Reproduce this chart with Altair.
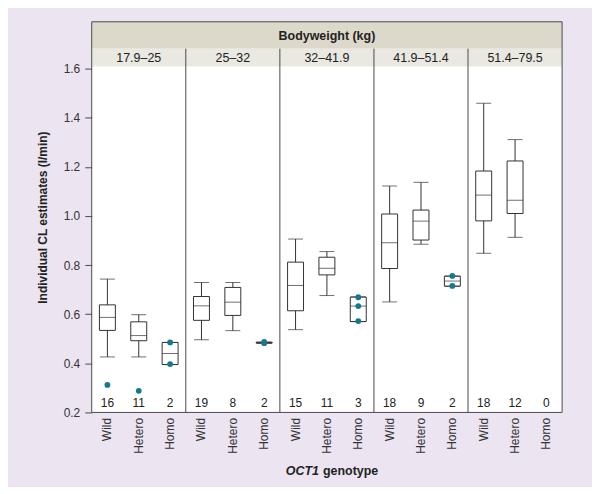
import altair as alt
import pandas as pd

# ---------------- data ----------------
panels = ["17.9–25", "25–32", "32–41.9", "41.9–51.4", "51.4–79.5"]
genotypes = ["Wild", "Hetero", "Homo"]

# box statistics per panel (None = no box)
wild_lo  = [0.426, 0.496, 0.537, 0.650, 0.848]
wild_q1  = [0.534, 0.575, 0.614, 0.786, 0.980]
wild_med = [0.587, 0.634, 0.717, 0.891, 1.085]
wild_q3  = [0.638, 0.672, 0.812, 1.008, 1.183]
wild_hi  = [0.743, 0.729, 0.906, 1.122, 1.459]

het_lo  = [0.426, 0.533, 0.676, 0.885, 0.913]
het_q1  = [0.492, 0.595, 0.760, 0.902, 1.010]
het_med = [0.513, 0.649, 0.787, 0.979, 1.064]
het_q3  = [0.569, 0.709, 0.832, 1.024, 1.224]
het_hi  = [0.598, 0.729, 0.855, 1.137, 1.311]

homo_lo  = [0.395, 0.482, 0.570, 0.714, None]
homo_q1  = [0.395, 0.482, 0.570, 0.714, None]
homo_med = [0.440, 0.484, 0.633, 0.735, None]
homo_q3  = [0.485, 0.486, 0.670, 0.755, None]
homo_hi  = [0.485, 0.486, 0.670, 0.755, None]

counts = [[16, 11, 2], [19, 8, 2], [15, 11, 3], [18, 9, 2], [18, 12, 0]]

# individual points drawn as dots (outliers / small groups)
pt_panel = ["17.9–25", "17.9–25", "17.9–25", "17.9–25", "25–32", "25–32",
            "32–41.9", "32–41.9", "32–41.9", "41.9–51.4", "41.9–51.4"]
pt_geno = ["Wild", "Hetero", "Homo", "Homo", "Homo", "Homo",
           "Homo", "Homo", "Homo", "Homo", "Homo"]
pt_val = [0.312, 0.288, 0.485, 0.397, 0.482, 0.487,
          0.669, 0.633, 0.572, 0.756, 0.715]

header_title = "Bodyweight (kg)"
y_title = "Individual CL estimates (l/min)"
y_ticks = [0.2, 0.4, 0.6, 0.8, 1.0, 1.2, 1.4, 1.6]

# ---------------- tables ----------------
def key(p, g):
    return f"{p}|{g}"

cat_order = [key(p, g) for p in panels for g in genotypes]

stats = {"Wild": (wild_lo, wild_q1, wild_med, wild_q3, wild_hi),
         "Hetero": (het_lo, het_q1, het_med, het_q3, het_hi),
         "Homo": (homo_lo, homo_q1, homo_med, homo_q3, homo_hi)}
rows = []
for i, p in enumerate(panels):
    for g in genotypes:
        lo, q1, med, q3, hi = (s[i] for s in stats[g])
        if med is None:
            continue
        rows.append(dict(cat=key(p, g), lo=lo, q1=q1, med=med, q3=q3, hi=hi))
box_df = pd.DataFrame(rows)

count_df = pd.DataFrame([dict(cat=key(p, g), n=str(counts[i][j]))
                         for i, p in enumerate(panels) for j, g in enumerate(genotypes)])
pts_df = pd.DataFrame(dict(cat=[key(p, g) for p, g in zip(pt_panel, pt_geno)], v=pt_val))
panel_df = pd.DataFrame(dict(cat=[key(p, "Hetero") for p in panels], label=panels))
div_df = pd.DataFrame(dict(cat=[key(p, "Wild") for p in panels[1:]]))
one = pd.DataFrame(dict(t=[header_title]))

W, H = 472, 392
HDR1, HDR2 = 27, 45
ink = "#333333"
frame = "#4a4a4a"
teal = "#16798a"

y_top = 0.2 + 1.4 * H / 345.0

xs = alt.Scale(domain=cat_order, paddingInner=0, paddingOuter=0)
ys = alt.Scale(domain=[0.2, y_top], nice=False, zero=False)

X = alt.X("cat:N", scale=xs,
          axis=alt.Axis(title=None, labelAngle=-90, ticks=False, domain=False,
                        labelPadding=5, labelFontSize=12, labelColor=ink,
                        labelExpr="split(datum.label, '|')[1]"))
Y = alt.Y("q1:Q", scale=ys,
          axis=alt.Axis(title=y_title, values=y_ticks, format=".1f", grid=False,
                        domain=False, tickSize=7, tickColor=frame, labelPadding=5,
                        labelFontSize=12, labelColor=ink, titleFontSize=12,
                        titleFontWeight="bold", titleColor="#222222", titlePadding=14))

head1 = alt.Chart(one).mark_rect(fill="#dcd9cb").encode(
    x=alt.value(0), x2=alt.value(W), y=alt.value(0), y2=alt.value(HDR1))
head2 = alt.Chart(one).mark_rect(fill="#e9e9e1").encode(
    x=alt.value(0), x2=alt.value(W), y=alt.value(HDR1), y2=alt.value(HDR2))
head_txt = alt.Chart(one).mark_text(fontWeight="bold", fontSize=12.5, color="#222222").encode(
    text="t:N", x=alt.value(W / 2), y=alt.value(HDR1 / 2 + 1))
panel_txt = alt.Chart(panel_df).mark_text(fontSize=12.5, color="#222222").encode(
    x=alt.X("cat:N", scale=xs), y=alt.value((HDR1 + HDR2) / 2), text="label:N")
dividers = alt.Chart(div_df).mark_rule(color=frame, strokeWidth=1).encode(
    x=alt.X("cat:N", scale=xs, bandPosition=0), y=alt.value(HDR1), y2=alt.value(H))

whisk = alt.Chart(box_df).mark_rule(color=ink, strokeWidth=1).encode(
    x=X, y=alt.Y("lo:Q", scale=ys), y2="hi:Q")
box = alt.Chart(box_df).mark_bar(size=16, fill="white", stroke=ink, strokeWidth=1).encode(
    x=X, y=Y, y2="q3:Q")
med = alt.Chart(box_df).mark_tick(size=16, thickness=1, color=ink).encode(
    x=X, y=alt.Y("med:Q", scale=ys))
cap_lo = alt.Chart(box_df).mark_tick(size=15, thickness=1, color=ink).encode(
    x=X, y=alt.Y("lo:Q", scale=ys))
cap_hi = alt.Chart(box_df).mark_tick(size=15, thickness=1, color=ink).encode(
    x=X, y=alt.Y("hi:Q", scale=ys))
dots = alt.Chart(pts_df).mark_circle(size=34, color=teal, opacity=1).encode(
    x=X, y=alt.Y("v:Q", scale=ys))
count_txt = alt.Chart(count_df).mark_text(fontSize=12, color="#222222").encode(
    x=X, y=alt.value(H - 9), text="n:N")

xt1 = alt.Chart(pd.DataFrame(dict(t=["OCT1"]))).mark_text(
    fontSize=12.5, fontWeight="bold", fontStyle="italic", align="right", color="#222222"
).encode(text="t:N", x=alt.value(228), y=alt.value(H + 59))
xt2 = alt.Chart(pd.DataFrame(dict(t=["genotype"]))).mark_text(
    fontSize=12.5, fontWeight="bold", align="left", color="#222222"
).encode(text="t:N", x=alt.value(232), y=alt.value(H + 59))

border = alt.Chart(one).mark_rect(fill=None, stroke=frame, strokeWidth=1).encode(
    x=alt.value(0), x2=alt.value(W), y=alt.value(0), y2=alt.value(H))

chart = alt.layer(
    head1, head2, head_txt, panel_txt, dividers,
    whisk, box, med, cap_lo, cap_hi, dots, count_txt, xt1, xt2, border
).properties(
    width=W, height=H,
    autosize=alt.AutoSizeParams(type="none"),
    padding={"left": 84, "top": 13, "right": 30, "bottom": 74},
    background="#ece5f1",
).configure(font="Liberation Sans").configure_view(fill="white", stroke=None)

chart.save("out.html", embed_options={"renderer": "svg", "actions": False})
